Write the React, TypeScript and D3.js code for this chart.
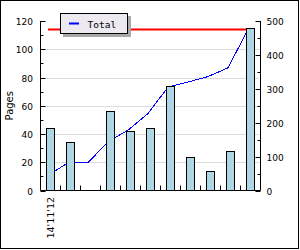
import React from "react";
import * as d3 from "d3";

const categories = ["14'11'12", "c2", "c3", "c4", "c5", "c6", "c7", "c8", "c9", "c10", "c11"];
const categoryLabels = ["14'11'12", "", "", "", "", "", "", "", "", "", ""];
const pages = [44, 34, 0, 56, 42, 44, 74, 24, 14, 28, 115];
const totalLine = [44, 82, 82, 144, 178, 227, 305, 320, 336, 362, 475];
const targetLine = [475, 475, 475, 475, 475, 475, 475, 475, 475, 475, 475];
const leftTicks = [0, 20, 40, 60, 80, 100, 120];
const rightTicks = [0, 100, 200, 300, 400, 500];
const legendLabel = "Total";
const yTitle = "Pages";

export default function App() {
  const W = 300, H = 250;
  const left = 40.5, right = 260.5, top = 21, bottom = 190.5;
  const x = d3.scaleBand<string>().domain(categories).range([left, right]);
  const yL = d3.scaleLinear().domain([0, 120]).range([bottom, top]);
  const yR = d3.scaleLinear().domain([0, 500]).range([bottom, top]);
  const cx = (c: string) => (x(c) as number) + x.bandwidth() / 2;
  const lineX = (c: string) => Math.round(cx(c) - 2.5);
  const lineGen = d3
    .line<number>()
    .x((_, i) => lineX(categories[i]))
    .y((v) => yR(v));
  const font = "DejaVu Sans";
  const leftMinor = d3.range(10, 120, 20);
  const rightMinor = d3.range(50, 500, 100);
  const boundaries = categories.slice(1).map((c) => x(c) as number);

  return (
    <svg width={W} height={H} style={{ position: "absolute", left: 0, top: 0, background: "#fff" }}>
      <rect x={0.5} y={0.5} width={298} height={248} fill="#fff" stroke="#000" />
      {/* gridlines */}
      {leftTicks.filter((t) => t > 0 && t < 120).map((t) => (
        <line key={"g" + t} x1={left + 1} x2={right - 1} y1={Math.round(yL(t)) + 0.5} y2={Math.round(yL(t)) + 0.5} stroke="#dcdcdc" />
      ))}
      {/* lines under bars */}
      <path d={lineGen(targetLine) || ""} fill="none" stroke="#ff0000" strokeWidth={2} />
      <path d={lineGen(totalLine) || ""} fill="none" stroke="#0000ff" strokeWidth={1} shapeRendering="crispEdges" />
      {/* bars */}
      {pages.map((v, i) => {
        if (v <= 0) return null;
        const c = categories[i];
        const xc = cx(c);
        const y0 = Math.round(yL(v)) + 0.5;
        return (
          <g key={"b" + i}>
            <rect x={xc - 4} y={y0} width={8} height={bottom - y0} fill="#add8e6" stroke="#000" />
            <line x1={xc} x2={xc} y1={y0 + 2} y2={bottom - 1} stroke="#c9b9c4" strokeDasharray="1,2" />
          </g>
        );
      })}
      {/* axes */}
      <line x1={left} x2={left} y1={top} y2={bottom} stroke="#000" />
      <line x1={right} x2={right} y1={top} y2={bottom} stroke="#000" />
      <line x1={left} x2={right} y1={bottom} y2={bottom} stroke="#000" />
      {leftTicks.map((t) => {
        const yy = Math.round(yL(t)) + 0.5;
        return (
          <g key={"lt" + t}>
            <line x1={left} x2={left + 5} y1={yy} y2={yy} stroke="#000" />
            <text x={33} y={yy + 3.5} textAnchor="end" fontFamily={font} fontSize={9}>{t}</text>
          </g>
        );
      })}
      {leftMinor.map((t) => {
        const yy = Math.round(yL(t)) + 0.5;
        return <line key={"lm" + t} x1={left} x2={left + 3} y1={yy} y2={yy} stroke="#000" />;
      })}
      {rightTicks.map((t) => {
        const yy = Math.round(yR(t)) + 0.5;
        return (
          <g key={"rt" + t}>
            <line x1={right - 5} x2={right} y1={yy} y2={yy} stroke="#000" />
            <text x={266.5} y={yy + 3.5} textAnchor="start" fontFamily={font} fontSize={9}>{t}</text>
          </g>
        );
      })}
      {rightMinor.map((t) => {
        const yy = Math.round(yR(t)) + 0.5;
        return <line key={"rm" + t} x1={right - 3} x2={right} y1={yy} y2={yy} stroke="#000" />;
      })}
      {boundaries.map((b, i) => (
        <line key={"xt" + i} x1={b} x2={b} y1={bottom - 5} y2={bottom} stroke="#000" />
      ))}
      {categoryLabels.map((l, i) =>
        l ? (
          <text key={"xl" + i} transform={`translate(${cx(categories[i]) + 3.5},${197}) rotate(-90)`} textAnchor="end" fontFamily={font} fontSize={9.5}>{l}</text>
        ) : null
      )}
      <text transform={`translate(12.5,${(top + bottom) / 2}) rotate(-90)`} textAnchor="middle" fontFamily={font} fontSize={10}>{yTitle}</text>
      {/* legend */}
      <rect x={63} y={16} width={68} height={21} fill="#a9a9a9" />
      <rect x={60.5} y={13.5} width={67} height={20} fill="#eceaf0" stroke="#000" />
      <line x1={69} x2={79} y1={23.5} y2={23.5} stroke="#0000ff" strokeWidth={2} />
      <text x={87.5} y={27.5} fontFamily="DejaVu Sans Mono" fontSize={9.5}>{legendLabel}</text>
    </svg>
  );
}
